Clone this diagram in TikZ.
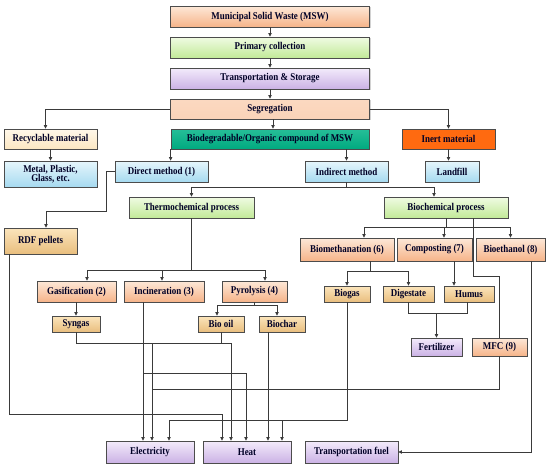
\documentclass[tikz,border=0pt]{standalone}
\usepackage{fontspec}
\setmainfont{Liberation Serif}[FakeStretch=0.86]
\usetikzlibrary{calc,arrows.meta,shadows}
\definecolor{peachT}{HTML}{FDE8D8}
\definecolor{peachB}{HTML}{F6B489}
\definecolor{greenT}{HTML}{F0FBE3}
\definecolor{greenB}{HTML}{C2EA98}
\definecolor{purpT}{HTML}{F3EBFB}
\definecolor{purpB}{HTML}{CBB2E5}
\definecolor{blueT}{HTML}{E6F6FC}
\definecolor{blueB}{HTML}{A6DAF0}
\definecolor{creamT}{HTML}{FFF8EA}
\definecolor{creamB}{HTML}{FBE6C2}
\definecolor{tanT}{HTML}{FBE5BC}
\definecolor{tanB}{HTML}{E9BE7E}
\definecolor{tealC}{HTML}{00B386}
\definecolor{inertC}{HTML}{FF6A10}
\definecolor{lnC}{HTML}{3A3A3A}
\begin{document}
\begin{tikzpicture}[x=1pt,y=-1pt,
  font=\fontsize{10.4}{11}\selectfont\bfseries,
  box/.style={draw=black!70, line width=0.7pt, inner sep=1pt, align=center,
    text=black!85!blue,
    drop shadow={shadow xshift=1pt,shadow yshift=-1pt,opacity=0.35}},
  sz/.style 2 args={minimum width=#1pt, minimum height=#2pt},
  peach/.style={top color=peachT, bottom color=peachB},
  greenb/.style={top color=greenT, bottom color=greenB},
  purp/.style={top color=purpT, bottom color=purpB},
  blueb/.style={top color=blueT, bottom color=blueB},
  cream/.style={top color=creamT, bottom color=creamB},
  tan/.style={top color=tanT, bottom color=tanB},
  ln/.style={draw=lnC, line width=0.75pt},
  arr/.style={ln, -{Triangle[length=3.6pt,width=3.4pt]}}]
\useasboundingbox[fill=white] (0,0) rectangle (550,469);

% ---------- nodes ----------
\node[box,peach,sz={199}{21}] (msw) at (270,16.5) {Municipal Solid Waste (MSW)};
\node[box,greenb,sz={199}{21}] (prim) at (270,47.5) {Primary collection};
\node[box,purp,sz={199}{21}] (trans) at (270,78.5) {Transportation \& Storage};
\node[box,top color=peachT!70!peachB, bottom color=peachT!60!peachB,sz={199}{20}] (seg) at (270,109) {Segregation};
\node[box,cream,sz={93}{20}] (recyc) at (50.5,139) {Recyclable material};
\node[box,blueb,sz={93}{26}] (metal) at (50.5,174) {Metal, Plastic,\\[-2pt] Glass, etc.};
\node[box,top color=tealC!85!white, bottom color=tealC!95!black,sz={198}{20}] (biod) at (270,139) {Biodegradable/Organic compound of MSW};
\node[box,fill=inertC,sz={93}{20}] (inert) at (448.5,139) {Inert material};
\node[box,blueb,sz={93}{21}] (direct) at (161.5,171.5) {Direct method (1)};
\node[box,blueb,sz={83}{21}] (indirect) at (346.5,171.5) {Indirect method};
\node[box,blueb,sz={54}{21}] (landfill) at (452,171.5) {Landfill};
\node[box,greenb,sz={125}{21}] (thermo) at (191.5,207.5) {Thermochemical process};
\node[box,greenb,sz={124}{21}] (bioch) at (446,207.5) {Biochemical process};
\node[box,tan,sz={73}{26}] (rdf) at (40.5,241) {RDF pellets};
\node[box,peach,sz={79}{21}] (gasif) at (76.5,291.5) {Gasification (2)};
\node[box,peach,sz={80}{21}] (incin) at (164,291.5) {Incineration (3)};
\node[box,peach,sz={65}{21}] (pyro) at (254.5,291.5) {Pyrolysis (4)};
\node[box,tan,sz={48}{16}] (syngas) at (76,324) {Syngas};
\node[box,tan,sz={46}{16}] (biooil) at (221,324) {Bio oil};
\node[box,tan,sz={46}{16}] (biochar) at (282,324) {Biochar};
\node[box,peach,sz={94}{23}] (biometh) at (347,249.5) {Biomethanation (6)};
\node[box,peach,sz={75}{23}] (compost) at (434.5,249.5) {Composting (7)};
\node[box,peach,sz={69}{23}] (bioeth) at (510.5,249.5) {Bioethanol (8)};
\node[box,tan,sz={46}{16}] (biogas) at (347,294) {Biogas};
\node[box,tan,sz={51}{16}] (digest) at (408.5,294) {Digestate};
\node[box,tan,sz={50}{16}] (humus) at (469,294) {Humus};
\node[box,purp,sz={51}{18}] (fert) at (436.5,347) {Fertilizer};
\node[box,peach,sz={55}{18}] (mfc) at (499.5,347) {MFC (9)};
\node[box,purp,sz={88}{22}] (elec) at (150,452) {Electricity};
\node[box,purp,sz={88}{22}] (heat) at (247,452) {Heat};
\node[box,purp,sz={93}{22}] (tfuel) at (351.5,452) {Transportation fuel};

% ---------- helper coordinates ----------
\coordinate (e2) at ($(elec.north)+(2,0)$);
\coordinate (ch) at ($(compost.south)+(19.5,0)$);

% ---------- connectors ----------
\draw[arr] (msw.south) -- (prim.north);
\draw[arr] (prim.south) -- (trans.north);
\draw[arr] (trans.south) -- (seg.north);
\draw[arr] (seg.west) -| ($(recyc.north)+(-5,0)$);
\draw[arr] (seg.east) -| (inert.north);
\draw[arr] ($(seg.south)+(3,0)$) -- ($(biod.north)+(3,0)$);
\draw[arr] (recyc.south) -- (metal.north);
\draw[arr] (biod.south west) -- (biod.south west |- direct.north);
\draw[arr] (indirect.north |- biod.south) -- (indirect.north);
\draw[arr] (inert.south) -- (inert.south |- landfill.north);

\draw[arr] (direct.west) -- ++(-8,0) |- ($(rdf.north)+(5.5,-16)$) -- ($(rdf.north)+(5.5,0)$);

\draw[ln] (indirect.south) -- ++(0,5) coordinate (ij);
\draw[arr] (ij) -| (thermo.north);
\draw[arr] (ij) -| ($(bioch.north)+(-12,0)$);

\draw[ln] (thermo.south) -- ++(0,52) coordinate (tj);
\draw[arr] (tj) -| ($(gasif.north)+(10.5,0)$);
\draw[arr] (tj) -| ($(incin.north)+(-2,0)$);
\draw[arr] (tj) -| ($(pyro.north)+(10.5,0)$);

\draw[arr] (syngas.north |- gasif.south) -- (syngas.north);

\draw[ln] (pyro.south) -- ++(0,3) coordinate (pj);
\draw[arr] (pj) -| ($(biooil.north)+(-4,0)$);
\draw[arr] (pj) -| ($(biochar.north)+(-5,0)$);

\draw[ln] (bioch.south) -- ++(0,9) coordinate (bj);
\draw[arr] (bj) -| ($(biometh.north)+(17,0)$);
\draw[arr] (bj) -| ($(compost.north)+(9.5,0)$);
\draw[arr] (bj) -| (bioeth.north);
\draw[ln] ($(bioch.south)+(27,0)$) |- ($(mfc.north)+(0,-61)$) -- (mfc.north);

\draw[ln] ($(biometh.south)+(23,0)$) -- ++(0,10) coordinate (mj);
\draw[arr] (mj) -| (biogas.north);
\draw[arr] (mj) -| (digest.north);
\draw[arr] (ch) -- (ch |- humus.north);

\draw[ln] (digest.south) -- ++(0,11) coordinate (dh) -| ($(humus.south)+(-2,0)$);
\draw[arr] (dh -| fert.north) -- (fert.north);

\draw[arr] ($(bioeth.south)+(20.5,0)$) |- (tfuel.east);

% bottom collectors
\draw[arr] ($(incin.south)+(-21,0)$) -- ($(elec.north)+(-7,0)$);
\draw[arr] ($(incin.south)+(-21,71)$) -| ($(heat.north)+(-1,0)$);

\draw[ln] (syngas.south) -- ++(0,11) coordinate (sj);
\draw[arr] (sj) -| ($(heat.north)+(-16,0)$);
\draw[arr] (sj -| e2) -- (e2);
\draw[ln] (biooil.south) -- (biooil.south |- sj);

\draw[ln] (mfc.south) -- ++(0,33) coordinate (fj);
\draw[ln] (fj) -- (fj -| e2);

\draw[arr] (biogas.south) |- ($(elec.north)+(19,-20)$) -- ($(elec.north)+(19,0)$);
\draw[arr] ($(heat.north)+(35,-20)$) -- ($(heat.north)+(35,0)$);

\draw[arr] ($(biochar.south)+(-14,0)$) -- ($(heat.north)+(21,0)$);

\draw[arr] ($(rdf.south)+(-31.5,0)$) |- ($(heat.north)+(-25,-26)$) -- ($(heat.north)+(-25,0)$);
\end{tikzpicture}
\end{document}
